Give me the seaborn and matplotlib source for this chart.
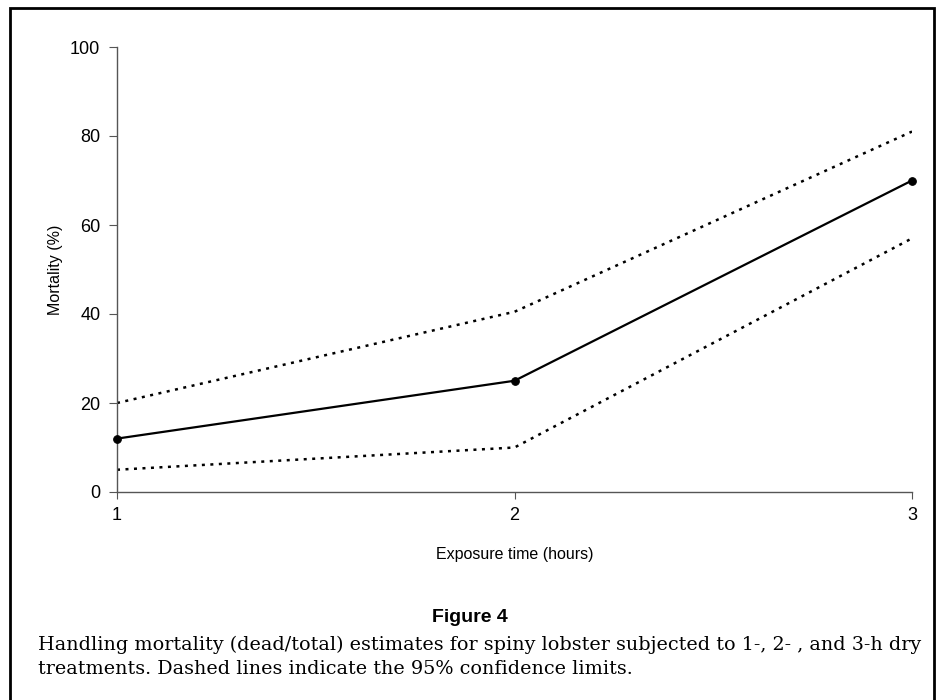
import pandas as pd
import matplotlib.pyplot as plt
from matplotlib.patches import Rectangle
import seaborn as sns

# Data
hours = [1, 2, 3]
mortality = [12, 25, 70]
lower_ci = [5, 10, 57]
upper_ci = [20, 40.5, 81]

df = pd.DataFrame({"hours": hours, "mean": mortality, "low": lower_ci, "high": upper_ci})

sns.set_style("ticks")
plt.rcParams['font.family'] = ['Liberation Sans', 'DejaVu Sans']
plt.rcParams['text.color'] = "black"

fig = plt.figure(figsize=(9.38, 7), dpi=100)
ax = fig.add_axes([117/938, 1 - 492/700, (912 - 117)/938, (492 - 47)/700])

sns.lineplot(data=df, x="hours", y="low", ax=ax, color="black", linestyle=(0, (1.2, 2.2)), linewidth=1.8)
sns.lineplot(data=df, x="hours", y="high", ax=ax, color="black", linestyle=(0, (1.2, 2.2)), linewidth=1.8)
sns.lineplot(data=df, x="hours", y="mean", ax=ax, color="black", linewidth=1.6,
             marker="o", markersize=5.5, markeredgecolor="black", clip_on=False, zorder=5)

ax.set_xlim(1, 3)
ax.set_ylim(0, 100)
ax.set_xticks(hours)
ax.set_yticks([0, 20, 40, 60, 80, 100])
ax.tick_params(axis="both", labelsize=13, length=5, width=0.8, color="#555555", pad=6, labelcolor="black")
ax.tick_params(axis="y", length=6)
for s in ["left", "bottom"]:
    ax.spines[s].set_color("#555555")
    ax.spines[s].set_linewidth(1.0)
sns.despine(ax=ax)
ax.set_xlabel("")
ax.set_ylabel("")

fig.text(515/938, 1 - 555/700, "Exposure time (hours)", ha="center", va="center", fontsize=11.5, color="black")
fig.text(55/938, 1 - 270/700, "Mortality (%)", ha="center", va="center", rotation=90, fontsize=11.5, color="black")

fig.text(470/938, 1 - 618/700, "Figure 4", ha="center", va="center", fontsize=14, fontweight="bold", color="black")
fig.text(38/938, 1 - 645/700, "Handling mortality (dead/total) estimates for spiny lobster subjected to 1-, 2- , and 3-h dry",
         ha="left", va="center", fontsize=13.8, color="black", family=["DejaVu Serif"])
fig.text(38/938, 1 - 669/700, "treatments. Dashed lines indicate the 95% confidence limits.",
         ha="left", va="center", fontsize=13.8, color="black", family=["DejaVu Serif"])

# frame round the whole figure
fig.patches.append(Rectangle((10/938, -0.02), (934 - 10)/938, 1.02 - 8/700, transform=fig.transFigure,
                             fill=False, edgecolor="black", linewidth=2))

fig.savefig("out.png", dpi=100)
